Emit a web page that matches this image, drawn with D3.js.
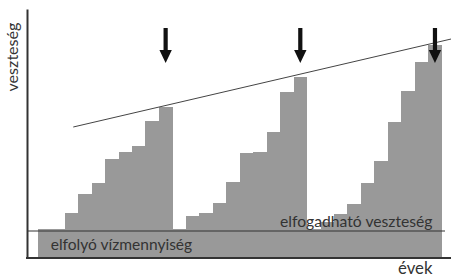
<!DOCTYPE html>
<html>
<head>
<meta charset="utf-8">
<script src="https://cdn.jsdelivr.net/npm/d3@7"></script>
<style>
  body { margin: 0; background: #fff; }
  svg text { font-family: Lato, "Open Sans", sans-serif; fill: #333; }
</style>
</head>
<body>
<script>
// years on the x axis (30 steps)
const years = [1, 2, 3, 4, 5, 6, 7, 8, 9, 10,
    11, 12, 13, 14, 15, 16, 17, 18, 19, 20,
    21, 22, 23, 24, 25, 26, 27, 28, 29, 30];
// loss per year (grows, drops back after each repair)
const losses = [29, 29, 45, 64, 75, 99, 106, 112, 137, 151,
    29, 42, 45, 55, 76, 105, 106, 126, 166, 181,
    29, 36, 44, 54, 75, 97, 136, 167, 196, 213];
// acceptable loss level
const acceptable = 27;
// trend line (start / end in year-position and loss)
const trendX = [2.64, 30.7];
const trendY = [131, 219];
// repair moments (arrows)
const arrowYears = [10, 20, 30];
const arrowTop = 230, arrowHead = 208, arrowTip = 195;
// labels
const yLabel = "veszteség";
const xLabel = "évek";
const baseLabel = "elfolyó vízmennyiség";
const acceptLabel = "elfogadható veszteség";

const W = 451, H = 276;
const svg = d3.select("body").append("svg")
    .attr("width", W)
    .attr("height", H);

// scales
const x = d3.scaleBand()
    .domain(years)
    .range([37.7, 441.7])
    .padding(0);
const xLin = d3.scaleLinear()
    .domain([0, years.length])
    .range([37.7, 441.7]);
const y = d3.scaleLinear()
    .domain([0, 249])
    .range([258, 9]);

// bars
svg.append("g")
    .selectAll("rect")
    .data(losses)
    .enter()
    .append("rect")
    .attr("x", (d, i) => x(years[i]))
    .attr("y", d => y(d))
    .attr("width", x.bandwidth() + 0.4)
    .attr("height", d => y(0) - y(d))
    .attr("fill", "#999")
    .attr("shape-rendering", "crispEdges");

// acceptable loss line
svg.append("line")
    .attr("x1", 27)
    .attr("x2", 445)
    .attr("y1", y(acceptable))
    .attr("y2", y(acceptable))
    .attr("stroke", "#333")
    .attr("stroke-width", 1.2);

// trend line
svg.append("line")
    .attr("x1", xLin(trendX[0]))
    .attr("y1", y(trendY[0]))
    .attr("x2", xLin(trendX[1]))
    .attr("y2", y(trendY[1]))
    .attr("stroke", "#444")
    .attr("stroke-width", 1);

// axes
svg.append("g")
    .attr("transform", "translate(27,0)")
    .call(d3.axisLeft(y).tickValues([]).tickSizeOuter(0))
    .select(".domain")
    .attr("stroke", "#333")
    .attr("stroke-width", 2);
svg.append("line")
    .attr("x1", 26)
    .attr("x2", W)
    .attr("y1", y(0))
    .attr("y2", y(0))
    .attr("stroke", "#333")
    .attr("stroke-width", 2);

// arrows
svg.append("g")
    .selectAll("path")
    .data(arrowYears)
    .enter()
    .append("path")
    .attr("d", d => {
        const cx = x(d) + x.bandwidth() / 2;
        return `M${cx - 2.1},${y(arrowTop)} L${cx + 2.1},${y(arrowTop)} L${cx + 2.1},${y(arrowHead)}`
            + ` L${cx + 6.2},${y(arrowHead)} L${cx},${y(arrowTip)} L${cx - 6.2},${y(arrowHead)}`
            + ` L${cx - 2.1},${y(arrowHead)} Z`;
    })
    .attr("fill", "#111");

// fit a text to a target width
function fit(sel, width) {
    const w = sel.node().getComputedTextLength();
    const fs = parseFloat(sel.style("font-size"));
    sel.style("font-size", (fs * width / w) + "px");
}

const t1 = svg.append("text")
    .attr("x", 50.7)
    .attr("y", 250)
    .style("font-size", "14px")
    .text(baseLabel);
fit(t1, 141.6);

const t2 = svg.append("text")
    .attr("x", 280)
    .attr("y", 226.5)
    .style("font-size", "14px")
    .text(acceptLabel);
fit(t2, 152.7);

const t3 = svg.append("text")
    .attr("x", 398)
    .attr("y", 273.5)
    .style("font-size", "14px")
    .text(xLabel);
fit(t3, 34.5);

const t4 = svg.append("text")
    .attr("transform", "translate(17.5,57) rotate(-90)")
    .attr("text-anchor", "middle")
    .style("font-size", "14px")
    .text(yLabel);
fit(t4, 69);
</script>
</body>
</html>
